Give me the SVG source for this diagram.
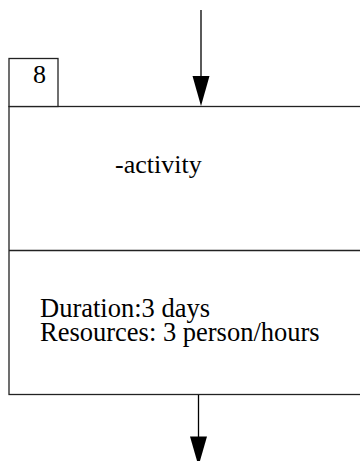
<svg xmlns="http://www.w3.org/2000/svg" width="360" height="461" viewBox="0 0 360 461">
  <defs>
    <style>
      .frame { fill: #ffffff; stroke: #222222; stroke-width: 1.3; }
      .rule { stroke: #222222; stroke-width: 1.3; fill: none; }
      .wire { stroke: #000000; stroke-width: 1.3; fill: none; }
      .head { fill: #000000; stroke: none; }
      .lbl { font-family: "Liberation Serif", "Times New Roman", serif; font-size: 26px; fill: #000000; }
      .detail { font-size: 26.5px; }
    </style>
  </defs>

  <!-- activity node: number tab, title section, details section -->
  <g id="activity-8">
    <rect class="frame" x="9" y="106.5" width="370" height="288"/>
    <line class="rule" x1="9" y1="250.5" x2="379" y2="250.5"/>
    <rect class="frame" x="9" y="58.5" width="49" height="48"/>
    <text class="lbl" x="33" y="83">8</text>
    <text class="lbl" x="115" y="173">-activity</text>
    <text class="lbl detail" x="40" y="317">Duration:3 days</text>
    <text class="lbl detail" x="40" y="341">Resources: 3 person/hours</text>
  </g>

  <!-- incoming and outgoing flow -->
  <g id="connectors">
    <line class="wire" x1="201" y1="10" x2="201" y2="80"/>
    <polygon class="head" points="192.5,76 209.5,76 201,106"/>
    <line class="wire" x1="198.5" y1="395" x2="198.5" y2="440"/>
    <polygon class="head" points="190,436.5 207,436.5 198.5,466"/>
  </g>
</svg>
